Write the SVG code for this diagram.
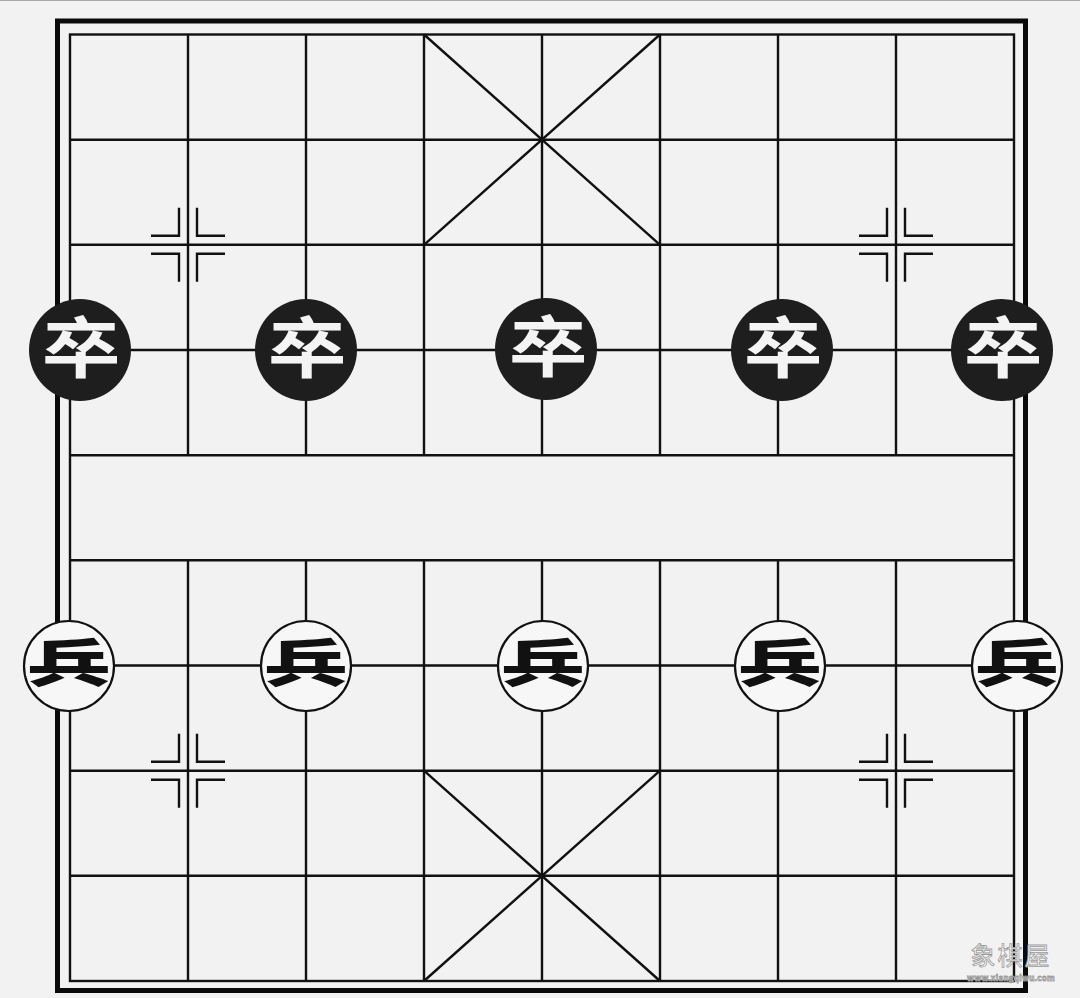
<svg xmlns="http://www.w3.org/2000/svg" xmlns:xlink="http://www.w3.org/1999/xlink" width="1080" height="998" viewBox="0 0 1080 998">
<style>
.grid{stroke:#111;stroke-width:2.4;fill:none}
.outer{stroke:#0a0a0a;stroke-width:5;fill:none}
.mk{stroke:#111;stroke-width:2.4;fill:none}
.bp{fill:#1e1e1e}
.rp{fill:#f7f7f7;stroke:#111;stroke-width:2.2}
.bt{font-family:"Noto Sans CJK SC","Noto Sans CJK TC",sans-serif;font-weight:700;fill:#f4f4f4;text-anchor:middle;font-size:66px}
.rt{font-family:"Noto Sans CJK SC","Noto Sans CJK TC",sans-serif;font-weight:900;fill:#111;text-anchor:middle;font-size:60px}
.wm{font-family:"Noto Sans CJK SC",sans-serif;fill:#ffffff;stroke:#9a9a9a;stroke-width:0.8;text-anchor:middle}
</style>
<defs>
<g id="mark">
<path class="mk" d="M-37,-9 H-9 V-37 M37,-9 H9 V-37 M-37,9 H-9 V37 M37,9 H9 V37"/>
</g>
</defs>
<rect x="0" y="0" width="1080" height="998" fill="#f2f2f2"/>
<line x1="0" y1="0.5" x2="1080" y2="0.5" stroke="#a8a8a8" stroke-width="1"/>
<g id="board">
<rect class="outer" x="57.5" y="21" width="968" height="969.5"/>
<rect class="grid" x="70" y="34.5" width="944" height="946.5"/>
<path class="grid" d="M70,139.7H1014M70,244.8H1014M70,350H1014M70,455.2H1014M70,560.3H1014M70,665.5H1014M70,770.7H1014M70,875.8H1014"/>
<path class="grid" d="M188,34.5V455.2M306,34.5V455.2M424,34.5V455.2M542,34.5V455.2M660,34.5V455.2M778,34.5V455.2M896,34.5V455.2"/>
<path class="grid" d="M188,560.3V981M306,560.3V981M424,560.3V981M542,560.3V981M660,560.3V981M778,560.3V981M896,560.3V981"/>
<path class="grid" d="M424,34.5L660,244.8M660,34.5L424,244.8M424,770.7L660,981M660,770.7L424,981"/>
<use xlink:href="#mark" href="#mark" x="188" y="244.8"/>
<use xlink:href="#mark" href="#mark" x="896" y="244.8"/>
<use xlink:href="#mark" href="#mark" x="188" y="770.7"/>
<use xlink:href="#mark" href="#mark" x="896" y="770.7"/>
</g>
<g id="black-1"><circle class="bp" cx="80" cy="350" r="51"/><text class="bt" transform="translate(81,349) scale(1.2,1.0)" x="0" y="23">卒</text></g>
<g id="black-2"><circle class="bp" cx="306" cy="350" r="51"/><text class="bt" transform="translate(307,349) scale(1.2,1.0)" x="0" y="23">卒</text></g>
<g id="black-3"><circle class="bp" cx="546" cy="349" r="51"/><text class="bt" transform="translate(548,348) scale(1.2,1.0)" x="0" y="23">卒</text></g>
<g id="black-4"><circle class="bp" cx="782" cy="350" r="51"/><text class="bt" transform="translate(783,349) scale(1.2,1.0)" x="0" y="23">卒</text></g>
<g id="black-5"><circle class="bp" cx="1002" cy="350" r="51"/><text class="bt" transform="translate(1003,349) scale(1.2,1.0)" x="0" y="23">卒</text></g>
<g id="red-1"><circle class="rp" cx="69" cy="666" r="45"/><text class="rt" transform="translate(69,664) scale(1.4,0.85)" x="0" y="21">兵</text></g>
<g id="red-2"><circle class="rp" cx="306" cy="666" r="45"/><text class="rt" transform="translate(306,664) scale(1.4,0.85)" x="0" y="21">兵</text></g>
<g id="red-3"><circle class="rp" cx="543" cy="666" r="45"/><text class="rt" transform="translate(543,664) scale(1.4,0.85)" x="0" y="21">兵</text></g>
<g id="red-4"><circle class="rp" cx="780" cy="666" r="45"/><text class="rt" transform="translate(780,664) scale(1.4,0.85)" x="0" y="21">兵</text></g>
<g id="red-5"><circle class="rp" cx="1017" cy="666" r="45"/><text class="rt" transform="translate(1017,664) scale(1.4,0.85)" x="0" y="21">兵</text></g>
<g id="connectors"></g>
<g id="watermark">
<text class="wm" x="1011" y="965" font-size="25" letter-spacing="2">象棋屋</text>
<text class="wm" x="1011" y="981" font-size="8" font-weight="700" stroke-width="0.4" letter-spacing="0.3">www.xiangqiwu.com</text>
</g>
</svg>
